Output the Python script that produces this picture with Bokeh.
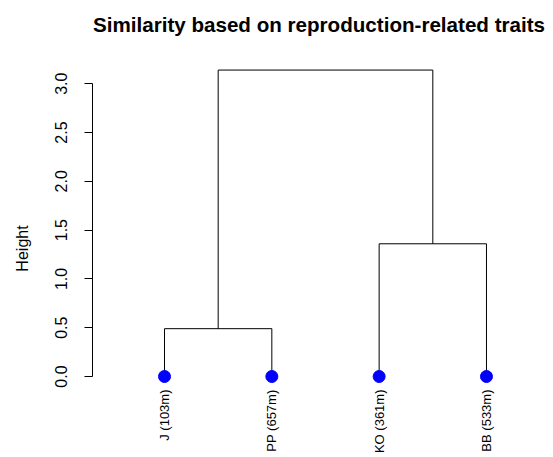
import numpy as np
from bokeh.plotting import figure
from bokeh.models import Range1d, ColumnDataSource
from bokeh.core.properties import value
from bokeh.embed import file_html
from bokeh.resources import INLINE

# Data
title_text = "Similarity based on reproduction-related traits"
leaf_labels = ["J (103m)", "PP (657m)", "KO (361m)", "BB (533m)"]
# merges: (left member, right member, height); negative = leaf index (1-based), positive = merge index
merge_left = [-1, -3, 1]
merge_right = [-2, -4, 2]
merge_height = [0.49, 1.36, 3.14]
y_ticks = [0.0, 0.5, 1.0, 1.5, 2.0, 2.5, 3.0]

leaf_x = list(range(1, len(leaf_labels) + 1))

# build dendrogram segments
node_pos = {}
x0s, y0s, x1s, y1s = [], [], [], []
def pos(m):
    if m < 0:
        return leaf_x[-m - 1], 0.0
    return node_pos[m]
for i, (a, b, h) in enumerate(zip(merge_left, merge_right, merge_height), start=1):
    ax_, ay = pos(a)
    bx, by = pos(b)
    x0s += [ax_, bx, ax_]
    y0s += [ay, by, h]
    x1s += [ax_, bx, bx]
    y1s += [h, h, h]
    node_pos[i] = ((ax_ + bx) / 2, h)

FONT = "Liberation Sans"

p = figure(width=545, height=456, output_backend="svg", toolbar_location=None,
           x_range=Range1d(0.329, 4.550), y_range=Range1d(-0.8197, 3.443),
           x_axis_location=None, min_border_left=92, min_border_right=0,
           min_border_top=40, min_border_bottom=0,
           title=title_text)
p.outline_line_color = None
p.grid.visible = False

p.title.align = "center"
p.title.text_font = FONT
p.title.text_font_size = "20.6px"
p.title.text_font_style = "bold"
p.title.text_color = "black"
p.title.offset = 7

p.segment(x0=x0s, y0=y0s, x1=x1s, y1=y1s, line_color="black", line_width=1)

src = ColumnDataSource(dict(x=leaf_x, y=[0.0] * len(leaf_x), label=leaf_labels))
p.scatter("x", "y", source=src, size=12, color="#0000FF")
p.text("x", "y", text="label", source=src, angle=np.pi / 2, text_align="right",
       text_baseline="middle", y_offset=13, text_font=value(FONT),
       text_font_size="13px", text_color="black")

ax = p.yaxis[0]
ax.ticker = y_ticks
ax.bounds = (0, 3)
ax.major_label_orientation = "vertical"
ax.major_label_overrides = {t: f"{t:.1f}" for t in y_ticks}
ax.major_tick_out = 8
ax.major_tick_in = 0
ax.minor_tick_out = 0
ax.minor_tick_in = 0
ax.major_label_standoff = 17
ax.major_label_text_font = FONT
ax.major_label_text_font_size = "16px"
ax.major_label_text_color = "black"
ax.axis_label = "Height"
ax.axis_label_text_font = FONT
ax.axis_label_text_font_style = "normal"
ax.axis_label_text_font_size = "16px"
ax.axis_label_text_color = "black"
ax.axis_label_standoff = 22
ax.axis_line_color = "black"
ax.major_tick_line_color = "black"

open("out.html", "w").write(file_html(p, INLINE))
